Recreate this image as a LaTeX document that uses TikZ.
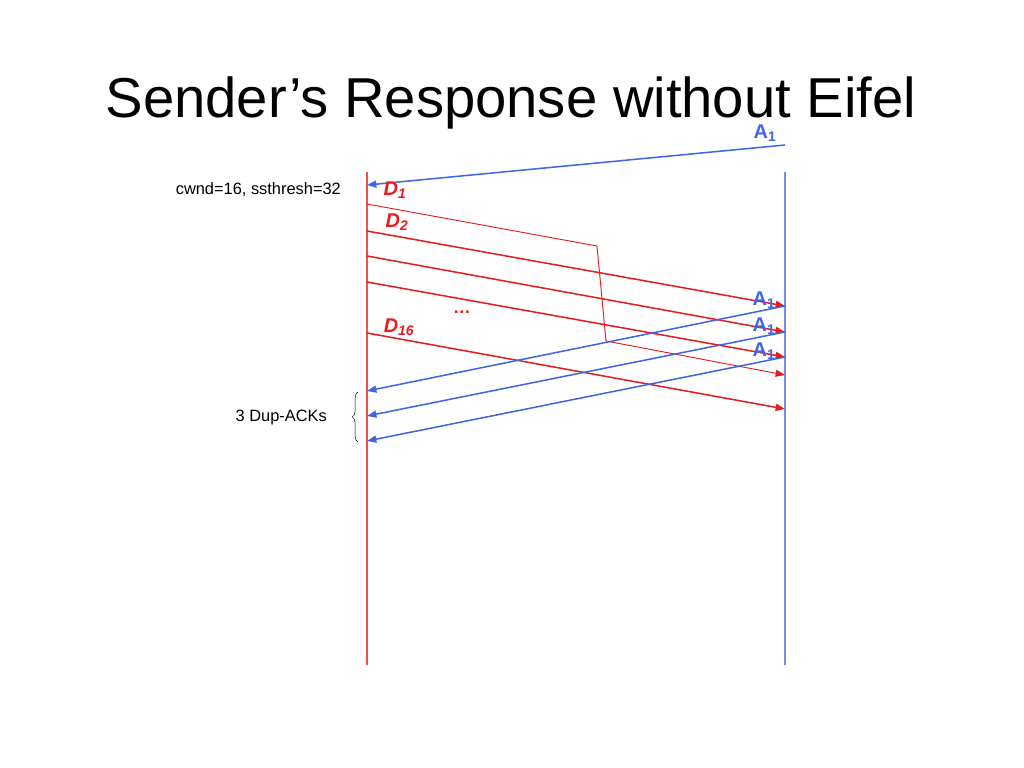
\documentclass[tikz,border=0pt]{standalone}
\usepackage{fontspec}
\setmainfont{Liberation Sans}
\usetikzlibrary{positioning,arrows.meta,decorations.pathreplacing}
\definecolor{dred}{RGB}{232,28,28}
\definecolor{dblue}{RGB}{62,102,230}
\definecolor{lred}{RGB}{238,80,80}
\definecolor{lblue}{RGB}{110,145,240}

\begin{document}
\begin{tikzpicture}[x=0.03cm, y=-0.03cm,
	seg/.style={dred, line width=1.3pt, -{Triangle[length=8pt,width=6pt]}},
	ack/.style={dblue, line width=1.3pt, -{Triangle[length=8pt,width=6pt]}},
	dlab/.style={dred, font=\fontsize{17}{17}\selectfont\bfseries\itshape},
	alab/.style={dblue, font=\fontsize{17}{17}\selectfont\bfseries},
	txt/.style={font=\fontsize{14}{14}\selectfont}]
	\useasboundingbox (0,0) rectangle (1024,768);
	\node[font=\fontsize{48}{48}\selectfont, anchor=base] (title) at (511,118) {Sender’s Response without Eifel};

	% sender and receiver
	\coordinate (snd0) at (367,172);
	\coordinate (snd1) at (367,665);
	\coordinate (rcv0) at (785,172);
	\coordinate (rcv1) at (785,665);
	\draw[lred, line width=1.1pt] (snd0) -- (snd1);
	\draw[lblue, line width=1.1pt] (rcv0) -- (rcv1);

	% first ack
	\coordinate (a0s) at (785,145);
	\coordinate (a0e) at (367,185);
	\draw[ack] (a0s) -- (a0e);
	\node[alab] (a0) at (765,133) {A\textsubscript{1}};
	\node[txt, anchor=east] (cwnd) at (345,190) {cwnd=16, ssthresh=32};

	% D1, delayed
	\coordinate (d1s) at (367,204);
	\coordinate (d1k) at (597,246);
	\coordinate (d1m) at (606,341);
	\coordinate (d1e) at (785,375);
	\draw[seg, line width=0.8pt] (d1s) -- (d1k) -- (d1m) -- (d1e);

	% D2 ... D16
	\foreach \i/\ys/\ye in {2/231/306, 3/256/332, 4/282/357, 16/333/409}{
		\coordinate (d\i s) at (367,\ys);
		\coordinate (d\i e) at (785,\ye);
		\draw[seg] (d\i s) -- (d\i e);
	}
	\node[dlab] (d1) at (395,190) {D\textsubscript{1}};
	\node[dlab] (d2) at (397,222) {D\textsubscript{2}};
	\node[dlab] (d16) at (399,327) {D\textsubscript{16}};
	\node[dred, font=\fontsize{15}{15}\selectfont\bfseries] (dots) at (462,312) {…};

	% dup acks
	\foreach \i/\ys/\ye in {1/306/391, 2/332/416, 3/357/441}{
		\coordinate (a\i s) at (785,\ys);
		\coordinate (a\i e) at (367,\ye);
		\draw[ack] (a\i s) -- (a\i e);
		\node[alab] (a\i) at (764,\ys-6) {A\textsubscript{1}};
	}

	\coordinate (br0) at (358,442);
	\coordinate (br1) at (358,392);
	\draw[decorate, decoration={brace, amplitude=5pt}] (br0) -- (br1);
	\node[txt, anchor=east] (dup) at (331,417) {3 Dup-ACKs};
\end{tikzpicture}
\end{document}
